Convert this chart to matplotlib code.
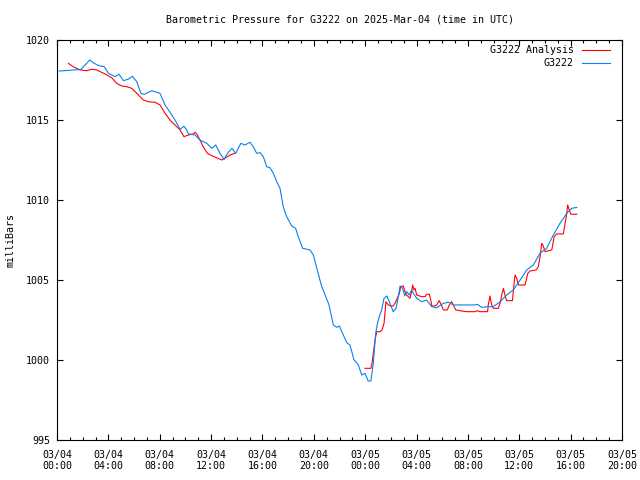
import numpy as np
import matplotlib
matplotlib.use('Agg')
import matplotlib.pyplot as plt
import matplotlib.dates as mdates

# Hours since 2025-03-04 00:00 UTC and pressure in millibars
obs_hours = [0.16, 1.87, 2.55, 2.90, 3.29, 3.68, 4.00, 4.52, 4.83, 5.16, 5.51, 5.86,
             6.21, 6.54, 6.80, 7.38, 8.02, 8.41, 8.80, 9.24, 9.58, 9.89, 10.10, 10.23,
             10.75, 11.14, 11.66, 12.05, 12.36, 12.69, 13.01, 13.29, 13.61, 13.92, 14.31,
             14.64, 15.03, 15.29, 15.55, 15.81, 16.07, 16.33, 16.59, 16.85, 17.11, 17.37,
             17.62, 17.89, 18.28, 18.59, 18.79, 19.14, 19.70, 19.96, 20.27, 20.62, 20.93,
             21.18, 21.52, 21.78, 21.99, 22.30, 22.56, 22.82, 23.13, 23.47, 23.73, 23.99,
             24.24, 24.45, 24.63, 24.82, 24.98, 25.10, 25.29, 25.47, 25.68, 25.88, 26.19,
             26.40, 26.58, 26.71, 26.92, 27.08, 27.24, 27.44, 27.62, 27.75, 28.01, 28.40,
             28.79, 29.18, 29.57, 30.09, 30.48, 30.86, 32.55, 32.73, 33.08, 33.47, 33.98,
             34.50, 35.02, 35.54, 36.06, 36.58, 37.10, 37.62, 38.14, 38.65, 39.17, 39.70,
             40.09, 40.48]
obs_mb = [1018.06, 1018.16, 1018.75, 1018.54, 1018.39, 1018.33, 1017.92, 1017.71, 1017.86,
          1017.46, 1017.54, 1017.73, 1017.39, 1016.67, 1016.61, 1016.83, 1016.67, 1015.94,
          1015.48, 1014.94, 1014.42, 1014.61, 1014.38, 1014.13, 1014.06, 1013.75, 1013.54,
          1013.23, 1013.44, 1012.92, 1012.54, 1012.92, 1013.23, 1012.92, 1013.54, 1013.44,
          1013.61, 1013.33, 1012.92, 1012.96, 1012.71, 1012.08, 1012.02, 1011.67, 1011.14,
          1010.73, 1009.58, 1008.96, 1008.38, 1008.23, 1007.71, 1006.98, 1006.88, 1006.56,
          1005.63, 1004.58, 1003.96, 1003.44, 1002.19, 1002.04, 1002.13, 1001.56, 1001.08,
          1000.94, 1000.00, 999.69, 999.06, 999.17, 998.69, 998.69, 999.79, 1001.67,
          1002.39, 1002.71, 1003.13, 1003.86, 1004.00, 1003.64, 1003.02, 1003.23, 1003.96,
          1004.63, 1004.48, 1004.00, 1004.27, 1004.06, 1004.38, 1004.17, 1003.86, 1003.64,
          1003.75, 1003.33, 1003.27, 1003.54, 1003.61, 1003.44, 1003.44, 1003.48, 1003.29,
          1003.33, 1003.33, 1003.64, 1004.06, 1004.38, 1005.00, 1005.63, 1005.94, 1006.67,
          1006.98, 1007.81, 1008.54, 1009.17, 1009.48, 1009.54]

# analysis series, two pieces with a gap in between
ana1_hours = [0.88, 1.27, 1.79, 2.31, 2.70, 3.09, 3.74, 4.26, 4.65, 5.04, 5.43, 5.82, 6.21,
              6.72, 7.11, 7.63, 8.02, 8.41, 8.80, 9.19, 9.58, 9.89, 10.23, 10.62, 10.75,
              10.88, 11.14, 11.39, 11.71, 12.05, 12.44, 12.83, 13.08, 13.47, 13.86]
ana1_mb = [1018.54, 1018.33, 1018.13, 1018.08, 1018.17, 1018.13, 1017.88, 1017.64, 1017.29,
           1017.13, 1017.08, 1016.98, 1016.67, 1016.25, 1016.14, 1016.11, 1015.94, 1015.42,
           1015.00, 1014.69, 1014.38, 1013.96, 1014.06, 1014.13, 1014.23, 1014.13, 1013.75,
           1013.33, 1012.92, 1012.77, 1012.64, 1012.50, 1012.61, 1012.81, 1012.92]

ana2_hours = [23.99, 24.45, 24.53, 24.63, 24.77, 24.90, 25.16, 25.31, 25.47, 25.55, 25.62,
              25.80, 25.99, 26.19, 26.32, 26.50, 26.66, 26.77, 26.97, 27.10, 27.24, 27.49,
              27.62, 27.70, 27.80, 27.88, 28.01, 28.40, 28.66, 28.79, 29.00, 29.13, 29.18,
              29.44, 29.57, 29.77, 29.96, 30.09, 30.40, 30.55, 30.74, 30.86, 31.05, 31.39,
              31.91, 32.55, 32.73, 32.94, 33.54, 33.59, 33.72, 33.85, 33.98, 34.37, 34.50,
              34.63, 34.76, 34.89, 35.02, 35.46, 35.54, 35.67, 35.80, 35.93, 36.45, 36.66,
              36.84, 37.31, 37.48, 37.62, 37.75, 37.83, 38.01, 38.53, 38.71, 38.92, 39.43,
              39.56, 39.70, 39.77, 39.85, 40.01, 40.48]
ana2_mb = [999.48, 999.48, 999.79, 1000.42, 1001.25, 1001.77, 1001.77, 1001.88, 1002.29,
           1003.02, 1003.64, 1003.44, 1003.38, 1003.38, 1003.54, 1003.86, 1004.17, 1004.58,
           1004.63, 1004.27, 1004.06, 1003.86, 1004.27, 1004.69, 1004.38, 1004.48, 1004.06,
           1003.96, 1003.96, 1004.11, 1004.11, 1003.64, 1003.38, 1003.38, 1003.44, 1003.71,
           1003.38, 1003.13, 1003.13, 1003.44, 1003.64, 1003.44, 1003.13, 1003.08, 1003.02,
           1003.02, 1003.08, 1003.02, 1003.02, 1003.44, 1004.00, 1003.44, 1003.23, 1003.23,
           1003.54, 1004.06, 1004.48, 1004.06, 1003.71, 1003.71, 1004.27, 1005.31, 1005.11,
           1004.69, 1004.69, 1005.42, 1005.56, 1005.63, 1005.83, 1006.46, 1007.29, 1007.19,
           1006.77, 1006.88, 1007.71, 1007.88, 1007.88, 1008.54, 1009.17, 1009.69, 1009.48,
           1009.11, 1009.11]

BASE = np.datetime64('2025-03-04T00:00')


def to_time(hours):
    return BASE + (np.array(hours) * 60).round().astype('timedelta64[m]')


FONT = 'DejaVu Sans Mono'
FS = 7.2
RED = '#ff0000'
BLUE = '#0a80f0'

fig = plt.figure(figsize=(6.4, 4.8), dpi=100)
ax = fig.add_axes([57 / 640, 40 / 480, 565 / 640, 400 / 480])

ax.plot(to_time(ana1_hours), ana1_mb, color=RED, lw=0.8, label='G3222 Analysis')
ax.plot(to_time(ana2_hours), ana2_mb, color=RED, lw=0.8)
ax.plot(to_time(obs_hours), obs_mb, color=BLUE, lw=0.8, label='G3222')

ax.set_xlim(np.datetime64('2025-03-04T00:00'), np.datetime64('2025-03-05T20:00'))
ax.set_ylim(995, 1020)
ax.set_yticks([995, 1000, 1005, 1010, 1015, 1020])

ax.xaxis.set_major_locator(mdates.HourLocator(byhour=range(0, 24, 4)))
ax.xaxis.set_minor_locator(mdates.HourLocator())
ax.xaxis.set_major_formatter(mdates.DateFormatter('%m/%d\n%H:%M'))

ax.tick_params(which='both', direction='in', top=True, right=True, width=0.8)
ax.tick_params(which='major', length=4.5)
ax.tick_params(which='minor', length=2.5)
ax.tick_params(axis='x', pad=7)
ax.tick_params(axis='y', pad=5)
for lab in ax.get_xticklabels() + ax.get_yticklabels():
    lab.set_fontfamily(FONT)
    lab.set_fontsize(FS)
for t in ax.xaxis.get_major_ticks():
    t.label1.set_linespacing(1.15)
for sp in ax.spines.values():
    sp.set_linewidth(0.8)

fig.text(339.5 / 640, 1 - 19 / 480, 'Barometric Pressure for G3222 on 2025-Mar-04 (time in UTC)',
         ha='center', va='center', family=FONT, fontsize=FS)
fig.text(11 / 640, 0.5, 'milliBars', rotation=90, ha='center', va='center',
         family=FONT, fontsize=FS)

ax.legend(loc='upper right', bbox_to_anchor=(610 / 640, 1 - 45 / 480),
          bbox_transform=fig.transFigure, frameon=False, markerfirst=False,
          prop={'family': FONT, 'size': FS}, borderpad=0, borderaxespad=0,
          handlelength=2.8, handletextpad=0.8, labelspacing=0.3)

fig.savefig('out.png', dpi=100)
